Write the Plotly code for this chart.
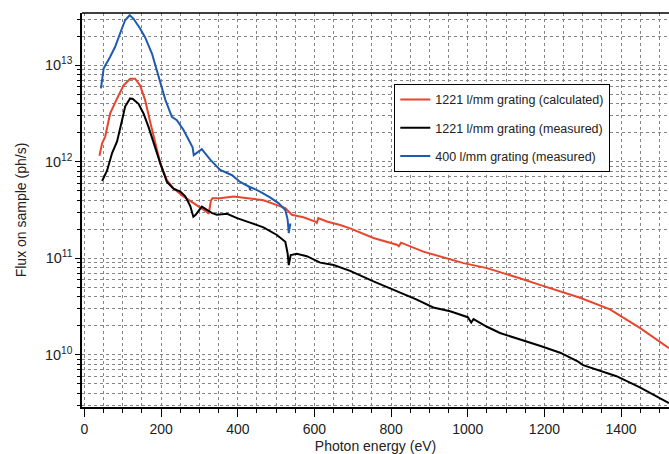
import plotly.graph_objects as go

# ---- data ----
calc_energy = [39, 46, 54, 67, 85, 102, 119, 132, 145, 158, 172, 185, 198, 215, 232, 258, 285, 302,
               319, 324, 330, 334, 354, 389, 424, 467, 502, 524, 541, 571, 602, 606, 610, 632, 667,
               693, 754, 815, 820, 826, 884, 945, 989, 1050, 1084, 1136, 1188, 1293, 1371, 1449, 1525]
calc_flux = [1.15e12, 1.55e12, 1.82e12, 3.16e12, 4.52e12, 6.17e12, 7.24e12, 7.24e12, 6.17e12, 4.37e12,
             2.51e12, 1.55e12, 9.55e11, 6.46e11, 5.31e11, 4.37e11, 3.72e11, 3.35e11, 3.02e11, 2.88e11,
             3.98e11, 4.17e11, 4.17e11, 4.37e11, 4.17e11, 3.98e11, 3.55e11, 3.31e11, 2.82e11, 2.66e11,
             2.40e11, 2.32e11, 2.60e11, 2.40e11, 2.21e11, 2.04e11, 1.62e11, 1.38e11, 1.33e11, 1.45e11,
             1.17e11, 1.00e11, 8.9e10, 7.9e10, 7.2e10, 6.2e10, 5.3e10, 3.9e10, 2.95e10, 1.9e10, 1.17e10]

meas1221_energy = [46, 59, 72, 85, 98, 106, 119, 126, 141, 154, 167, 180, 198, 215, 232, 250, 263, 276,
                   284, 290, 306, 332, 345, 372, 398, 432, 467, 502, 524, 530, 533, 538, 554, 580, 615,
                   650, 693, 754, 815, 867, 910, 954, 1000, 1009, 1015, 1050, 1084, 1136, 1171, 1188,
                   1241, 1288, 1301, 1336, 1388, 1449, 1525]
meas1221_flux = [6.3e11, 8.1e11, 1.23e12, 1.62e12, 2.69e12, 3.72e12, 4.52e12, 4.47e12, 3.98e12, 3.16e12,
                 2.29e12, 1.55e12, 9.55e11, 6.17e11, 5.25e11, 4.9e11, 4.37e11, 3.47e11, 2.69e11, 2.82e11,
                 3.43e11, 2.95e11, 2.82e11, 2.88e11, 2.6e11, 2.34e11, 2.09e11, 1.74e11, 1.48e11, 1.12e11,
                 8.5e10, 1.08e11, 1.11e11, 1.05e11, 9.0e10, 8.5e10, 7.4e10, 5.75e10, 4.57e10, 3.72e10,
                 3.09e10, 2.82e10, 2.45e10, 2.16e10, 2.34e10, 1.95e10, 1.68e10, 1.45e10, 1.30e10, 1.24e10,
                 1.05e10, 8.5e9, 7.8e9, 7.0e9, 6.0e9, 4.6e9, 3.16e9]

meas400_energy = [43, 50, 67, 80, 93, 106, 118, 128, 145, 158, 176, 193, 211, 228, 241, 258, 271, 282,
                  285, 289, 306, 328, 354, 385, 406, 430, 432, 434, 458, 484, 506, 524, 530, 533, 537]
meas400_flux = [5.75e12, 9.25e12, 1.22e13, 1.55e13, 2.14e13, 2.92e13, 3.29e13, 3.02e13, 2.4e13, 1.95e13,
                1.32e13, 7.6e12, 4.37e12, 2.92e12, 2.69e12, 2.14e12, 1.74e12, 1.41e12, 1.17e12, 1.2e12,
                1.35e12, 1.05e12, 8.2e11, 7.24e11, 6.17e11, 5.5e11, 5.1e11, 5.43e11, 4.9e11, 4.27e11,
                3.72e11, 3.16e11, 2.51e11, 1.82e11, 2.29e11]

series_names = ["1221 l/mm grating (calculated)", "1221 l/mm grating (measured)", "400 l/mm grating (measured)"]
series_colors = ["#E8452E", "#000000", "#1E5BB0"]

x_tick_vals = [0, 200, 400, 600, 800, 1000, 1200, 1400]
y_tick_vals = [1e10, 1e11, 1e12, 1e13]
y_tick_text = ["10<sup>10</sup>", "10<sup>11</sup>", "10<sup>12</sup>", "10<sup>13</sup>"]

# log minor positions (2..9 times each decade)
y_minor_vals = [m * 10 ** d for d in [9, 10, 11, 12, 13] for m in range(2, 10)
                if 10 ** 9.45 <= m * 10 ** d <= 10 ** 13.55]

FONT = "Liberation Sans, Arial, sans-serif"
GRID = "#858585"

fig = go.Figure()
for i, (xs, ys) in enumerate([(calc_energy, calc_flux), (meas1221_energy, meas1221_flux),
                              (meas400_energy, meas400_flux)]):
    fig.add_trace(go.Scatter(x=xs, y=ys, mode="lines", name=series_names[i],
                             legendgroup=f"g{i}",
                             line=dict(color=series_colors[i], width=2)))

fig.update_layout(
    width=669, height=454,
    margin=dict(l=82, r=0, t=13, b=47, autoexpand=False),
    paper_bgcolor="white", plot_bgcolor="white",
    font=dict(family=FONT, size=14, color="#222"),
    showlegend=True,
    legend=dict(x=0.532, y=0.82, xanchor="left", yanchor="top",
                bordercolor="#000", borderwidth=1, bgcolor="white",
                font=dict(size=12.5, color="#222"),
                traceorder="grouped", tracegroupgap=9),
)

fig.update_xaxes(
    range=[-6.5, 1525], tickvals=x_tick_vals,
    ticks="outside", ticklen=8, tickcolor="#000", tickwidth=1,
    showline=True, linecolor="#000", linewidth=1.5, mirror=False,
    showgrid=True, gridcolor=GRID, griddash="dot", gridwidth=1,
    zeroline=False, automargin=False,
    minor=dict(dtick=50, ticks="outside", ticklen=4, tickcolor="#000",
               showgrid=True, gridcolor=GRID, griddash="dot", gridwidth=1),
    title=dict(text="Photon energy (eV)", font=dict(size=14)),
    tickfont=dict(size=14),
)

fig.update_yaxes(
    type="log", range=[9.459, 13.54],
    tickvals=y_tick_vals, ticktext=y_tick_text,
    ticks="outside", ticklen=5, tickcolor="#000",
    showline=True, linecolor="#000", linewidth=1.5,
    showgrid=True, gridcolor=GRID, griddash="dot", gridwidth=1,
    zeroline=False, automargin=False,
    minor=dict(tickmode="array", tickvals=y_minor_vals, ticks="outside", ticklen=3,
               tickcolor="#000", showgrid=True, gridcolor=GRID, griddash="dot", gridwidth=1),
    title=dict(text="Flux on sample (ph/s)", font=dict(size=14)),
    tickfont=dict(size=14.5),
)

# top frame line
fig.add_shape(type="line", xref="paper", yref="paper", x0=0, x1=1, y0=1, y1=1,
              line=dict(color="#000", width=1.5))

fig.write_html("out.html", config={"displayModeBar": False},
               post_script="document.body.style.margin='0px';")
